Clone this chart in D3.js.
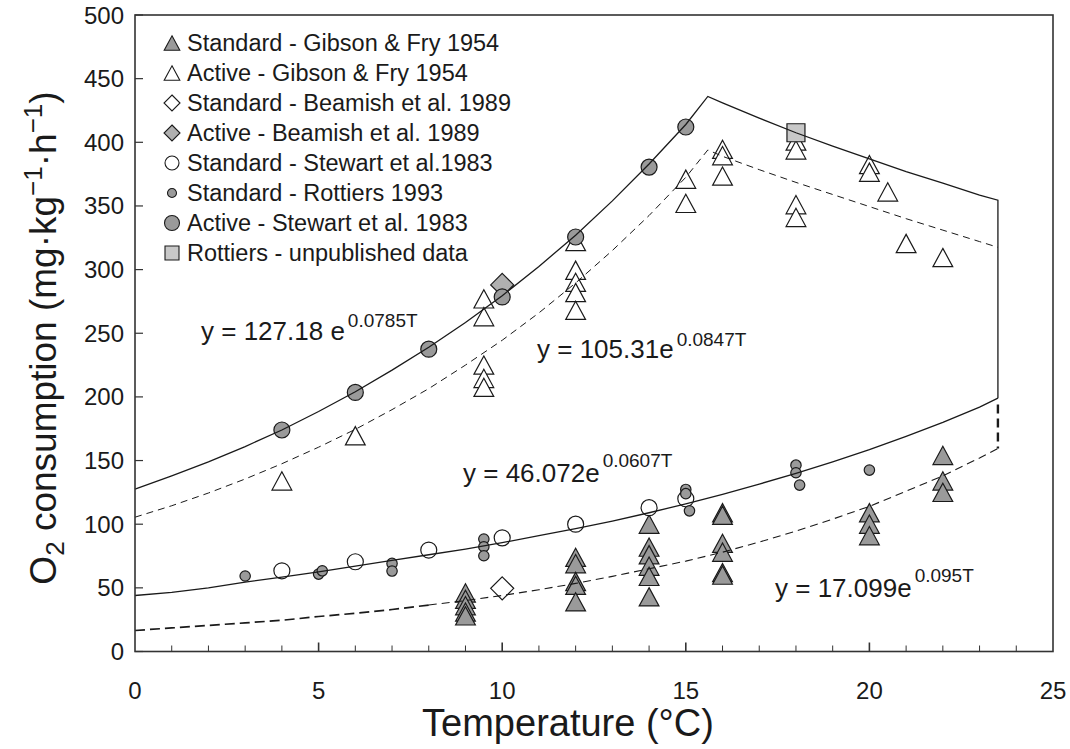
<!DOCTYPE html>
<html lang="en">
<head>
<meta charset="UTF-8"/>
<title>O2 consumption vs temperature</title>
<script src="https://d3js.org/d3.v7.min.js"></script>
<style>
  body { margin: 0; background: #fff; }
  svg text { font-family: "Liberation Sans", Arial, sans-serif; fill: #1a1a1a; }
</style>
</head>
<body>
<div id="chart"></div>
<script>
// ---- values ----
// Standard - Gibson & Fry 1954 (grey triangles)
var stdGibsonT  = [9, 9, 9, 9, 9, 12, 12, 12, 12, 12, 14, 14, 14, 14, 14, 14, 16, 16, 16, 16, 16, 16, 20, 20, 20, 22, 22, 22];
var stdGibsonO2 = [46, 41, 36, 31, 28, 74, 69, 55, 52, 39, 100, 82, 76, 67, 59, 43, 109, 107, 85, 78, 62, 60, 109, 100, 91, 154, 134, 125];
// Active - Gibson & Fry 1954 (open triangles)
var actGibsonT  = [4, 6, 9.5, 9.5, 9.5, 9.5, 9.5, 12, 12, 12, 12, 12, 15, 15, 16, 16, 16, 18, 18, 18, 18, 20, 20, 20.5, 21, 22];
var actGibsonO2 = [134, 169.5, 277, 263, 225, 214.5, 207.5, 322, 299.5, 290, 282, 268, 371, 352, 394.5, 389.5, 373.5, 401, 394, 351, 341, 382.5, 376.5, 361, 320.5, 309.5];
// Standard / Active - Beamish et al. 1989 (diamonds)
var stdBeamishT = [10], stdBeamishO2 = [49.6];
var actBeamishT = [10], actBeamishO2 = [288];
// Standard - Stewart et al. 1983 (open circles)
var stdStewartT  = [4, 6, 8, 10, 12, 14, 15];
var stdStewartO2 = [63.4, 70.5, 79.7, 89.3, 100, 113, 120];
// Standard - Rottiers 1993 (small grey circles)
var stdRottiersT  = [3, 5, 5.1, 7, 7, 9.5, 9.5, 9.5, 15, 15, 15.1, 18, 18, 18.1, 20];
var stdRottiersO2 = [59.3, 60.8, 63.4, 69.2, 63.2, 88.3, 82.3, 75.2, 127.3, 124, 110.5, 146.4, 140.4, 130.7, 142.5];
// Active - Stewart et al. 1983 (grey circles)
var actStewartT  = [4, 6, 8, 10, 12, 14, 15];
var actStewartO2 = [174, 203.5, 237.5, 278.5, 325.6, 380.5, 412];
// Rottiers - unpublished data (grey square)
var rottUnpubT = [18], rottUnpubO2 = [407.5];

// model curves
var riseT          = [0, 1, 2, 3, 4, 5, 6, 7, 8, 9, 10, 11, 12, 13, 14, 15, 15.6];
var upperSolidO2   = [127.5, 138, 149, 161, 174, 188.5, 204, 221, 239, 258.5, 279.5, 302.5, 327, 354, 383, 414, 436];
var upperDashedO2  = [105.5, 114.5, 124.5, 135.5, 147.5, 160.5, 174.5, 190, 206.5, 225, 244.5, 266, 289.5, 315, 342.5, 372.5, 394];
var fallT          = [15.6, 16, 17, 18, 19, 20, 21, 22, 23, 23.5];
var fallSolidO2    = [436, 431, 419, 407.5, 397, 387, 377, 368, 358.5, 354.5];
var fallDashedO2   = [394, 389, 378.5, 368.5, 359, 349.5, 340, 331, 322, 317.5];
var lowT           = [0, 1, 2, 3, 4, 5, 6, 7, 8, 9, 10, 11, 12, 13, 14, 15, 16, 17, 18, 19, 20, 21, 22, 23, 23.5];
var lowerSolidO2   = [44, 46.5, 50, 54.5, 58.5, 62.5, 67, 71.5, 76, 80.5, 85.5, 91, 96.5, 102.5, 109, 116, 123.5, 131.5, 140, 149, 158.5, 169, 180, 192, 199];
var lowerDashedO2  = [16.5, 18.5, 20.5, 22.5, 24.5, 27.5, 30, 33, 36.5, 40, 44, 48.5, 53.5, 59, 65, 71, 78, 86, 94.5, 104, 114, 126, 138, 152, 159.5];
var capT = 23.5;
var capDashedTop = 194;

var xTicks = [0, 5, 10, 15, 20, 25];
var yTicks = [0, 50, 100, 150, 200, 250, 300, 350, 400, 450, 500];

var legendNames = [
  "Standard - Gibson & Fry 1954",
  "Active - Gibson & Fry 1954",
  "Standard - Beamish et al. 1989",
  "Active - Beamish et al. 1989",
  "Standard - Stewart et al.1983",
  "Standard - Rottiers 1993",
  "Active - Stewart et al. 1983",
  "Rottiers - unpublished data"
];

// ---- drawing ----
var w = 1070, h = 749;
var margin = { left: 135, right: 1053, top: 15, bottom: 651.5 };

var x = d3.scaleLinear().domain([0, 25]).range([margin.left, margin.right]);
var y = d3.scaleLinear().domain([0, 500]).range([margin.bottom, margin.top]);

var svg = d3.select("#chart").append("svg")
  .attr("width", w)
  .attr("height", h);

function zip(ts, vs) {
  return ts.map(function (t, i) { return [t, vs[i]]; });
}

// marker shapes
function triPath(s) {
  var hw = s * 0.52, hh = s * 0.48;
  return "M0," + (-hh) + "L" + hw + "," + hh + "L" + (-hw) + "," + hh + "Z";
}
function diamondPath(s) {
  return "M0," + (-s) + "L" + s + ",0L0," + s + "L" + (-s) + ",0Z";
}
function squarePath(s) {
  return "M" + (-s / 2) + "," + (-s / 2) + "h" + s + "v" + s + "h" + (-s) + "Z";
}
function circlePath(r) {
  return "M" + (-r) + ",0a" + r + "," + r + " 0 1,0 " + (2 * r) + ",0a" + r + "," + r + " 0 1,0 " + (-2 * r) + ",0Z";
}

var series = [
  { name: legendNames[0], pts: zip(stdGibsonT, stdGibsonO2),   shape: triPath(19),    fill: "#9a9a9a", leg: triPath(15) },
  { name: legendNames[1], pts: zip(actGibsonT, actGibsonO2),   shape: triPath(19),    fill: "#ffffff", leg: triPath(15) },
  { name: legendNames[2], pts: zip(stdBeamishT, stdBeamishO2), shape: diamondPath(11.5), fill: "#ffffff", leg: diamondPath(8) },
  { name: legendNames[3], pts: zip(actBeamishT, actBeamishO2), shape: diamondPath(11.5), fill: "#b0b0b0", leg: diamondPath(8) },
  { name: legendNames[4], pts: zip(stdStewartT, stdStewartO2), shape: circlePath(8),  fill: "#ffffff", leg: circlePath(7) },
  { name: legendNames[5], pts: zip(stdRottiersT, stdRottiersO2), shape: circlePath(5.2), fill: "#9a9a9a", leg: circlePath(4.5) },
  { name: legendNames[6], pts: zip(actStewartT, actStewartO2), shape: circlePath(8),  fill: "#9a9a9a", leg: circlePath(7.5) },
  { name: legendNames[7], pts: zip(rottUnpubT, rottUnpubO2),   shape: squarePath(18), fill: "#c8c8c8", leg: squarePath(14) }
];

// points
series.forEach(function (s) {
  svg.append("g").selectAll("path")
    .data(s.pts)
    .enter()
    .append("path")
    .attr("d", s.shape)
    .attr("transform", function (d) { return "translate(" + x(d[0]) + "," + y(d[1]) + ")"; })
    .attr("fill", s.fill)
    .attr("stroke", "#1a1a1a")
    .attr("stroke-width", 1.2);
});

// curves
var line = d3.line()
  .x(function (d) { return x(d[0]); })
  .y(function (d) { return y(d[1]); });

var lowDash = zip(lowT, lowerDashedO2);
var curves = [
  { pts: zip(riseT, upperSolidO2).concat(zip(fallT, fallSolidO2).slice(1))
           .concat([[capT, lowerSolidO2[lowerSolidO2.length - 1]]]), dash: null, sw: 1.3 },
  { pts: zip(riseT, upperDashedO2).concat(zip(fallT, fallDashedO2).slice(1)), dash: "7,5", sw: 1 },
  { pts: zip(lowT, lowerSolidO2), dash: null, sw: 1.3 },
  // the cool end of the lower dashed line is drawn bolder in the figure
  { pts: lowDash.slice(0, 9), dash: "10,5", sw: 1.7 },
  { pts: lowDash.slice(8), dash: "8,5", sw: 1.1 },
  { pts: [[capT, capDashedTop], [capT, lowerDashedO2[lowerDashedO2.length - 1]]], dash: "9,5", sw: 2.4 }
];

curves.forEach(function (c) {
  svg.append("path")
    .datum(c.pts)
    .attr("d", line)
    .attr("fill", "none")
    .attr("stroke", "#1a1a1a")
    .attr("stroke-width", c.sw)
    .attr("stroke-dasharray", c.dash);
});

// frame
svg.append("rect")
  .attr("x", margin.left).attr("y", margin.top)
  .attr("width", margin.right - margin.left).attr("height", margin.bottom - margin.top)
  .attr("fill", "none")
  .attr("stroke", "#333")
  .attr("stroke-width", 1.6);

// y ticks (inside) and labels
svg.append("g").selectAll("line")
  .data(yTicks)
  .enter()
  .append("line")
  .attr("x1", margin.left).attr("x2", margin.left + 8)
  .attr("y1", function (d) { return y(d); })
  .attr("y2", function (d) { return y(d); })
  .attr("stroke", "#333").attr("stroke-width", 1.2);

svg.append("g").selectAll("text")
  .data(yTicks)
  .enter()
  .append("text")
  .attr("x", margin.left - 11)
  .attr("y", function (d) { return y(d) + 8.5; })
  .attr("text-anchor", "end")
  .attr("font-size", "24px")
  .text(function (d) { return d; });

// x ticks: minor every 1, major every 5
svg.append("g").selectAll("line")
  .data(d3.range(1, 25))
  .enter()
  .append("line")
  .attr("x1", function (d) { return x(d); })
  .attr("x2", function (d) { return x(d); })
  .attr("y1", margin.bottom)
  .attr("y2", function (d) { return d % 5 === 0 ? margin.bottom - 9 : margin.bottom - 6; })
  .attr("stroke", "#333").attr("stroke-width", function (d) { return d % 5 === 0 ? 1.6 : 1; });

svg.append("g").selectAll("text")
  .data(xTicks)
  .enter()
  .append("text")
  .attr("x", function (d) { return x(d); })
  .attr("y", margin.bottom + 47)
  .attr("text-anchor", "middle")
  .attr("font-size", "24px")
  .text(function (d) { return d; });

// axis titles
svg.append("text")
  .attr("x", 568)
  .attr("y", 736)
  .attr("text-anchor", "middle")
  .attr("font-size", "38px")
  .text("Temperature (°C)");

var yt = svg.append("text")
  .attr("transform", "translate(56,338) rotate(-90)")
  .attr("text-anchor", "middle")
  .attr("font-size", "37px");
yt.append("tspan").text("O");
yt.append("tspan").attr("dy", 8).attr("font-size", "26px").text("2");
yt.append("tspan").attr("dy", -8).text(" consumption (mg·kg");
yt.append("tspan").attr("dy", -14).attr("font-size", "26px").text("−1");
yt.append("tspan").attr("dy", 14).text("·h");
yt.append("tspan").attr("dy", -14).attr("font-size", "26px").text("−1");
yt.append("tspan").attr("dy", 14).text(")");

// regression labels
var eqs = [
  { base: "y = 127.18 e", exp: "0.0785T", px: 201, py: 340, up: 13 },
  { base: "y = 105.31e",  exp: "0.0847T", px: 537, py: 358, up: 12 },
  { base: "y = 46.072e",  exp: "0.0607T", px: 463, py: 482, up: 15 },
  { base: "y = 17.099e",  exp: "0.095T",  px: 775, py: 597, up: 15 }
];
eqs.forEach(function (e) {
  var t = svg.append("text")
    .attr("x", e.px).attr("y", e.py)
    .attr("font-size", "26px");
  t.append("tspan").text(e.base);
  t.append("tspan").attr("dx", 3).attr("dy", -e.up).attr("font-size", "19px").text(e.exp);
});

// legend
var lg = svg.append("g");
series.forEach(function (s, i) {
  var cy = 43 + i * 30;
  lg.append("path")
    .attr("d", s.leg)
    .attr("transform", "translate(172," + cy + ")")
    .attr("fill", s.fill)
    .attr("stroke", "#1a1a1a")
    .attr("stroke-width", 1.1);
  lg.append("text")
    .attr("x", 187)
    .attr("y", cy + 8)
    .attr("font-size", "23.5px")
    .text(s.name);
});
</script>
</body>
</html>
